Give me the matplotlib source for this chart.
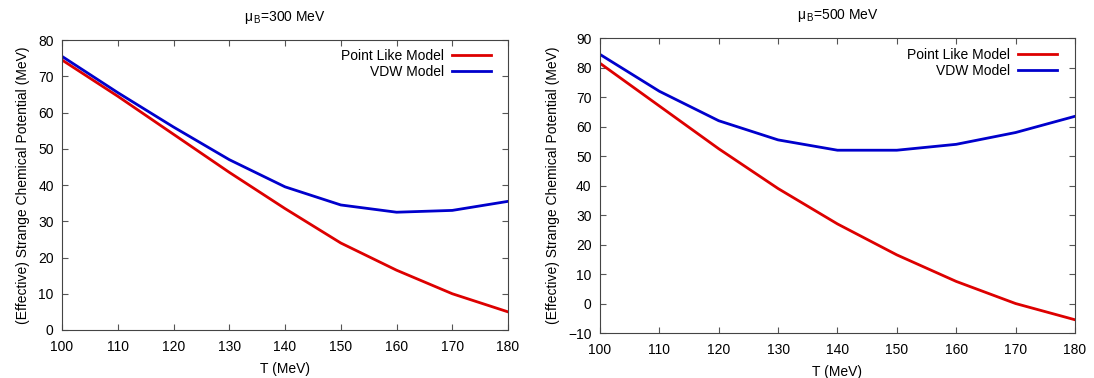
import matplotlib.pyplot as plt
import numpy as np

T = [100, 110, 120, 130, 140, 150, 160, 170, 180]

# mu_B = 300 MeV
point_300 = [74.5, 64.5, 54.0, 43.5, 33.5, 24.0, 16.5, 10.0, 5.0]
vdw_300 = [75.5, 65.5, 56.0, 47.0, 39.5, 34.5, 32.5, 33.0, 35.5]

# mu_B = 500 MeV
point_500 = [81.5, 67.0, 52.5, 39.0, 27.0, 16.5, 7.5, 0.0, -5.5]
vdw_500 = [84.5, 72.0, 62.0, 55.5, 52.0, 52.0, 54.0, 58.0, 63.5]

titles = [r'$\mu_{\,\rm B}$=300 MeV', r'$\mu_{\,\rm B}$=500 MeV']
ylims = [(0, 80), (-10, 90)]

plt.rcParams['font.family'] = ['Liberation Sans', 'DejaVu Sans']
plt.rcParams['mathtext.fontset'] = 'custom'
plt.rcParams['mathtext.rm'] = 'Liberation Sans'
plt.rcParams['mathtext.it'] = 'Liberation Sans'

fig = plt.figure(figsize=(10.94, 3.78), dpi=100)
ax1 = fig.add_axes([0.0567, 0.127, 0.4077, 0.767])
ax2 = fig.add_axes([0.5484, 0.119, 0.4342, 0.780])

for ax, red, blue, title, yl, anchor_y in [(ax1, point_300, vdw_300, titles[0], ylims[0], 0.99),
                                           (ax2, point_500, vdw_500, titles[1], ylims[1], 0.985)]:
    ax.plot(T, red, color='#dd0000', lw=2, label='Point Like Model')
    ax.plot(T, blue, color='#0000cc', lw=2, label='VDW Model')
    ax.set_xlim(100, 180)
    ax.set_ylim(*yl)
    ax.set_xticks(np.arange(100, 181, 10))
    ax.set_yticks(np.arange(yl[0], yl[1] + 1, 10))
    ax.tick_params(direction='in', top=True, right=True, labelsize=10, length=4, color='#555555')
    ax.tick_params(axis='x', pad=7)
    ax.tick_params(axis='y', pad=6)
    for s in ax.spines.values():
        s.set_color('#444444')
    ax.set_xlabel('T (MeV)', fontsize=10, labelpad=6)
    ax.set_ylabel('(Effective) Strange Chemical Potential (MeV)', fontsize=10, labelpad=6)
    ax.set_title(title, fontsize=10, pad=14)
    ax.legend(loc='upper right', bbox_to_anchor=(0.974, anchor_y), frameon=False,
              markerfirst=False, fontsize=10, handlelength=2.8, handletextpad=0.6,
              borderaxespad=0, labelspacing=0.15)

fig.savefig('out.png', dpi=100)
